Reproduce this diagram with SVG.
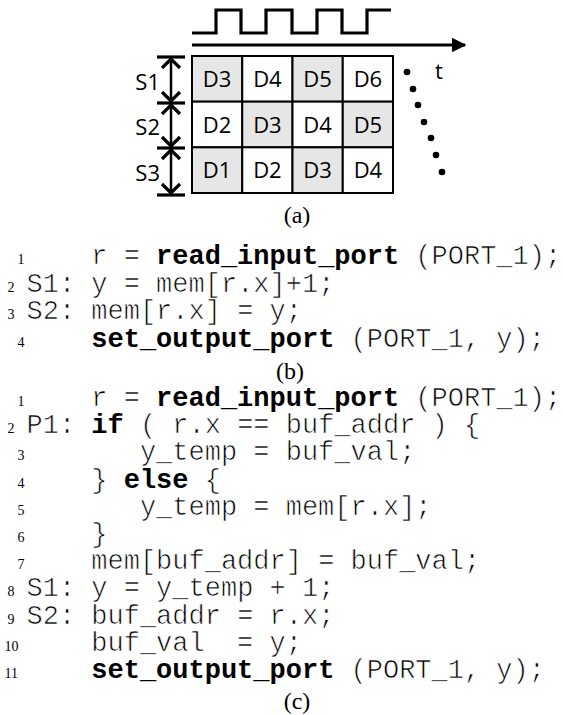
<svg xmlns="http://www.w3.org/2000/svg" width="563" height="715" viewBox="0 0 563 715">
<defs>
<style>
.cell{stroke:#000;stroke-width:2}
.sh{fill:#e6e6e6}
.wh{fill:#fff}
.lbl{font-family:"Open Sans","Noto Sans",sans-serif;font-size:22px;fill:#000}
.mid{text-anchor:middle}
.end{text-anchor:end}
.code{font-family:"Liberation Mono","DejaVu Sans Mono",monospace;font-size:27px;fill:#000;stroke:#fff;stroke-width:0.7px;white-space:pre}
.b{font-weight:bold;stroke:none}
.num{font-family:"Liberation Serif","Times New Roman",serif;font-size:14px;fill:#000}
.cap{font-family:"Liberation Serif","Times New Roman",serif;font-size:24px;fill:#000;text-anchor:middle}
.ln{fill:none;stroke:#000;stroke-width:3.2;stroke-linejoin:miter;stroke-linecap:butt}
.thin{fill:none;stroke:#000;stroke-width:2.5}
</style>
<marker id="ah" viewBox="0 0 10 10" refX="9" refY="5" markerWidth="4.5" markerHeight="4.5" orient="auto" markerUnits="strokeWidth">
<path d="M0,0 L10,5 L0,10 z" fill="#000"/>
</marker>
</defs>
<rect width="563" height="715" fill="#fff"/>

<g id="clock">
<path class="ln" d="M192,33 H216 V10 H241 V33 H266 V10 H292 V33 H317 V10 H342 V33 H367 V10 H391"/>
</g>

<g id="connectors">
<line class="ln" x1="192" y1="45" x2="465" y2="45" marker-end="url(#ah)"/>
<line class="ln" x1="157" y1="57" x2="185" y2="57"/>
<line class="ln" x1="157" y1="103" x2="185" y2="103"/>
<line class="ln" x1="157" y1="148" x2="185" y2="148"/>
<line class="ln" x1="157" y1="195" x2="185" y2="195"/>
<line class="thin" x1="171" y1="57" x2="171" y2="195"/>
<polyline class="ln" points="162,68 171,59 180,68"/>
<polyline class="ln" points="162,92 171,101 180,92"/>
<polyline class="ln" points="162,114 171,105 180,114"/>
<polyline class="ln" points="162,137 171,146 180,137"/>
<polyline class="ln" points="162,159 171,150 180,159"/>
<polyline class="ln" points="162,184 171,193 180,184"/>
</g>

<g id="stage-labels">
<text class="lbl end" x="160" y="90">S1</text>
<text class="lbl end" x="160" y="135">S2</text>
<text class="lbl end" x="160" y="181">S3</text>
</g>

<g id="grid">
<g id="cell-r0c0"><rect class="cell sh" x="192" y="56" width="50.25" height="45.67"/><text class="lbl mid" x="217.1" y="86.8">D3</text></g>
<g id="cell-r0c1"><rect class="cell wh" x="242.25" y="56" width="50.25" height="45.67"/><text class="lbl mid" x="267.4" y="86.8">D4</text></g>
<g id="cell-r0c2"><rect class="cell sh" x="292.5" y="56" width="50.25" height="45.67"/><text class="lbl mid" x="317.6" y="86.8">D5</text></g>
<g id="cell-r0c3"><rect class="cell wh" x="342.75" y="56" width="50.25" height="45.67"/><text class="lbl mid" x="367.9" y="86.8">D6</text></g>
<g id="cell-r1c0"><rect class="cell wh" x="192" y="101.67" width="50.25" height="45.67"/><text class="lbl mid" x="217.1" y="132.5">D2</text></g>
<g id="cell-r1c1"><rect class="cell sh" x="242.25" y="101.67" width="50.25" height="45.67"/><text class="lbl mid" x="267.4" y="132.5">D3</text></g>
<g id="cell-r1c2"><rect class="cell wh" x="292.5" y="101.67" width="50.25" height="45.67"/><text class="lbl mid" x="317.6" y="132.5">D4</text></g>
<g id="cell-r1c3"><rect class="cell sh" x="342.75" y="101.67" width="50.25" height="45.67"/><text class="lbl mid" x="367.9" y="132.5">D5</text></g>
<g id="cell-r2c0"><rect class="cell sh" x="192" y="147.33" width="50.25" height="45.67"/><text class="lbl mid" x="217.1" y="178.2">D1</text></g>
<g id="cell-r2c1"><rect class="cell wh" x="242.25" y="147.33" width="50.25" height="45.67"/><text class="lbl mid" x="267.4" y="178.2">D2</text></g>
<g id="cell-r2c2"><rect class="cell sh" x="292.5" y="147.33" width="50.25" height="45.67"/><text class="lbl mid" x="317.6" y="178.2">D3</text></g>
<g id="cell-r2c3"><rect class="cell wh" x="342.75" y="147.33" width="50.25" height="45.67"/><text class="lbl mid" x="367.9" y="178.2">D4</text></g>
</g>

<g id="dots" fill="#000">
<circle cx="407" cy="72" r="3.3"/>
<circle cx="413" cy="89" r="3.3"/>
<circle cx="418" cy="105" r="3.3"/>
<circle cx="424" cy="122" r="3.3"/>
<circle cx="431" cy="138" r="3.3"/>
<circle cx="436" cy="155" r="3.3"/>
<circle cx="442" cy="172" r="3.3"/>
</g>
<text class="lbl" x="435" y="79">t</text>

<text class="cap" x="297" y="223">(a)</text>

<g id="code-b" xml:space="preserve">
<text class="num" x="17.5" y="264">1</text><text class="code" x="91.3" y="264">r = <tspan class="b">read_input_port</tspan> (PORT_1);</text>
<text class="num" x="7.5" y="291.5">2</text><text class="code" x="26.5" y="291.5">S1: y = mem[r.x]+1;</text>
<text class="num" x="7.5" y="319">3</text><text class="code" x="26.5" y="319">S2: mem[r.x] = y;</text>
<text class="num" x="17.5" y="346.5">4</text><text class="code" x="91.3" y="346.5"><tspan class="b">set_output_port</tspan> (PORT_1, y);</text>
</g>
<text class="cap" x="290" y="379">(b)</text>

<g id="code-c" xml:space="preserve">
<text class="num" x="17.5" y="406">1</text><text class="code" x="91.3" y="406">r = <tspan class="b">read_input_port</tspan> (PORT_1);</text>
<text class="num" x="7.5" y="433.2">2</text><text class="code" x="26.5" y="433.2">P1: <tspan class="b">if</tspan> ( r.x == buf_addr ) {</text>
<text class="num" x="17.5" y="460.4">3</text><text class="code" x="139.9" y="460.4">y_temp = buf_val;</text>
<text class="num" x="17.5" y="487.6">4</text><text class="code" x="91.3" y="487.6">} <tspan class="b">else</tspan> {</text>
<text class="num" x="17.5" y="514.8">5</text><text class="code" x="139.9" y="514.8">y_temp = mem[r.x];</text>
<text class="num" x="17.5" y="542">6</text><text class="code" x="91.3" y="542">}</text>
<text class="num" x="17.5" y="569.2">7</text><text class="code" x="91.3" y="569.2">mem[buf_addr] = buf_val;</text>
<text class="num" x="7.5" y="596.4">8</text><text class="code" x="26.5" y="596.4">S1: y = y_temp + 1;</text>
<text class="num" x="7.5" y="623.6">9</text><text class="code" x="26.5" y="623.6">S2: buf_addr = r.x;</text>
<text class="num" x="4.5" y="650.8">10</text><text class="code" x="91.3" y="650.8">buf_val  = y;</text>
<text class="num" x="4.5" y="678">11</text><text class="code" x="91.3" y="678"><tspan class="b">set_output_port</tspan> (PORT_1, y);</text>
</g>
<text class="cap" x="297" y="709">(c)</text>
</svg>
